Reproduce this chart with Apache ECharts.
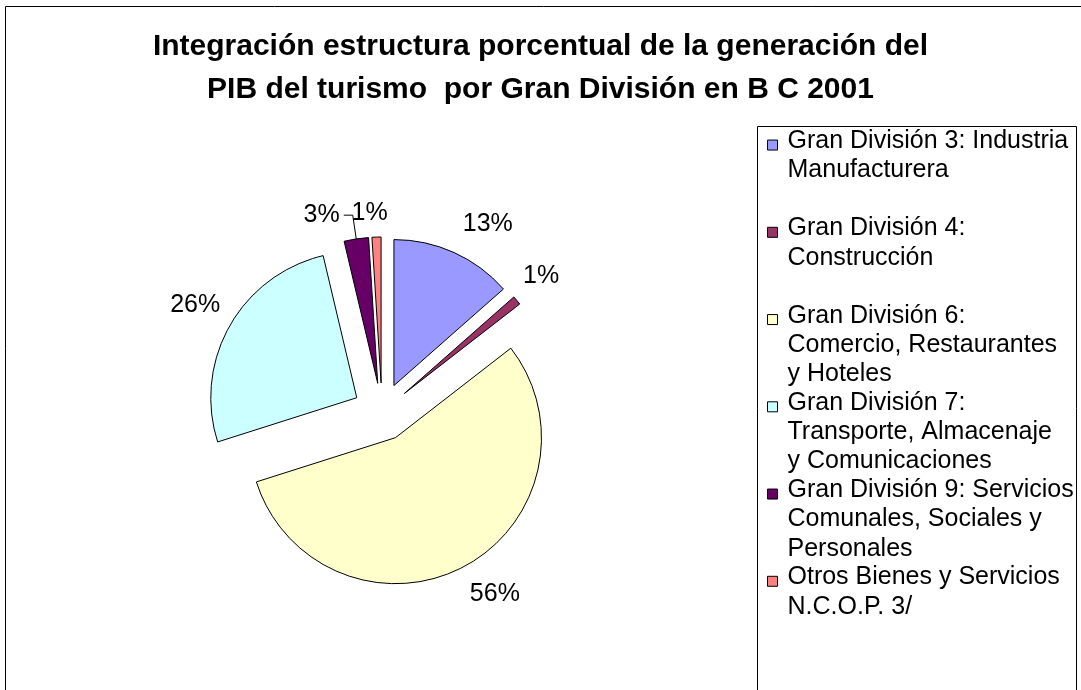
<!DOCTYPE html>
<html>
<head>
<meta charset="utf-8" />
<title>PIB del turismo BC 2001</title>
<script src="https://cdn.jsdelivr.net/npm/echarts@6/dist/echarts.min.js"></script>
<style>
  body { margin: 0; background: #fff; }
  #chart { width: 1081px; height: 690px; }
</style>
</head>
<body>
<div id="chart"></div>
<script type="text/javascript">
var categories = [
  'Gran División 3: Industria Manufacturera',
  'Gran División 4: Construcción',
  'Gran División 6: Comercio, Restaurantes y Hoteles',
  'Gran División 7: Transporte, Almacenaje y Comunicaciones',
  'Gran División 9: Servicios Comunales, Sociales y Personales',
  'Otros Bienes y Servicios N.C.O.P. 3/'
];
// legend text as wrapped in the original (every entry padded to 3 lines)
var legendLines = [
  'Gran División 3: Industria\nManufacturera\n ',
  'Gran División 4:\nConstrucción\n ',
  'Gran División 6:\nComercio, Restaurantes\ny Hoteles',
  'Gran División 7:\nTransporte, Almacenaje\ny Comunicaciones',
  'Gran División 9: Servicios\nComunales, Sociales y\nPersonales',
  'Otros Bienes y Servicios\nN.C.O.P. 3/\n '
];
var values = [13.5, 1.0, 55.6, 26.2, 2.7, 1.0];
var colors = ['#9999FF', '#993366', '#FFFFCC', '#CCFFFF', '#660066', '#FF8080'];

// where each percentage label sits relative to its slice
var labelTweak = [
  { len: 31, len2: -4, line: false },
  { len: 38, len2: -23, line: false },
  { len: 31, len2: -8, line: false },
  { len: 42, len2: -27, line: false },
  { len: 24, len2: 9, line: true },
  { len: 24, len2: -12, line: false }
];

var font = "'Liberation Sans', Arial, sans-serif";

var legendMap = {};
categories.forEach(function (c, i) {
  // two spacer lines on top keep the swatch level with the first text line
  var rows = legendLines[i].split('\n').map(function (l) { return '{t|' + l + '}'; });
  legendMap[c] = '{s| }\n{s| }\n' + rows.join('\n');
});

var pieData = categories.map(function (name, i) {
  var t = labelTweak[i];
  return {
    name: name,
    value: values[i],
    selected: true,
    itemStyle: { color: colors[i] },
    label: { distanceToLabelLine: t.line ? 4 : 0 },
    labelLine: { show: t.line, length: t.len, length2: t.len2 }
  };
});

var chart = echarts.init(document.getElementById('chart'));
var option = {
  backgroundColor: '#fff',
  animation: false,
  title: {
    text: 'Integración estructura porcentual de la generación del\nPIB del turismo  por Gran División en B C 2001',
    left: 'center',
    top: 25,
    padding: 0,
    textStyle: {
      fontFamily: font,
      fontSize: 30,
      fontWeight: 'bold',
      color: '#000',
      lineHeight: 43
    }
  },
  legend: {
    orient: 'vertical',
    left: 767,
    top: 76,
    padding: 0,
    itemWidth: 10,
    itemHeight: 10,
    itemGap: -49,
    icon: 'rect',
    selectedMode: false,
    itemStyle: { borderColor: '#000', borderWidth: 1 },
    formatter: function (name) { return legendMap[name]; },
    textStyle: {
      fontFamily: font,
      fontSize: 25,
      color: '#000',
      padding: [0, 0, 0, 5],
      rich: {
        s: { fontFamily: font, fontSize: 25, lineHeight: 25.5 },
        t: { fontFamily: font, fontSize: 25, lineHeight: 29.2, color: '#000' }
      }
    },
    data: categories
  },
  graphic: [
    {
      type: 'rect',
      shape: { x: 5.5, y: 6.5, width: 1090, height: 700 },
      style: { fill: 'none', stroke: '#000', lineWidth: 1 },
      silent: true
    },
    {
      type: 'rect',
      shape: { x: 757.5, y: 126.5, width: 319, height: 600 },
      style: { fill: 'none', stroke: '#000', lineWidth: 1 },
      silent: true
    }
  ],
  series: [
    {
      type: 'pie',
      center: [382, 412],
      radius: 146,
      startAngle: 90,
      clockwise: true,
      selectedMode: 'multiple',
      selectedOffset: 29,
      avoidLabelOverlap: false,
      percentPrecision: 0,
      itemStyle: { borderColor: '#000', borderWidth: 1 },
      emphasis: { disabled: true },
      label: {
        position: 'outside',
        alignTo: 'none',
        formatter: '{d}%',
        fontFamily: font,
        fontSize: 25,
        color: '#000'
      },
      labelLine: {
        lineStyle: { color: '#000', width: 1 }
      },
      data: pieData
    }
  ]
};
chart.setOption(option);
</script>
</body>
</html>
